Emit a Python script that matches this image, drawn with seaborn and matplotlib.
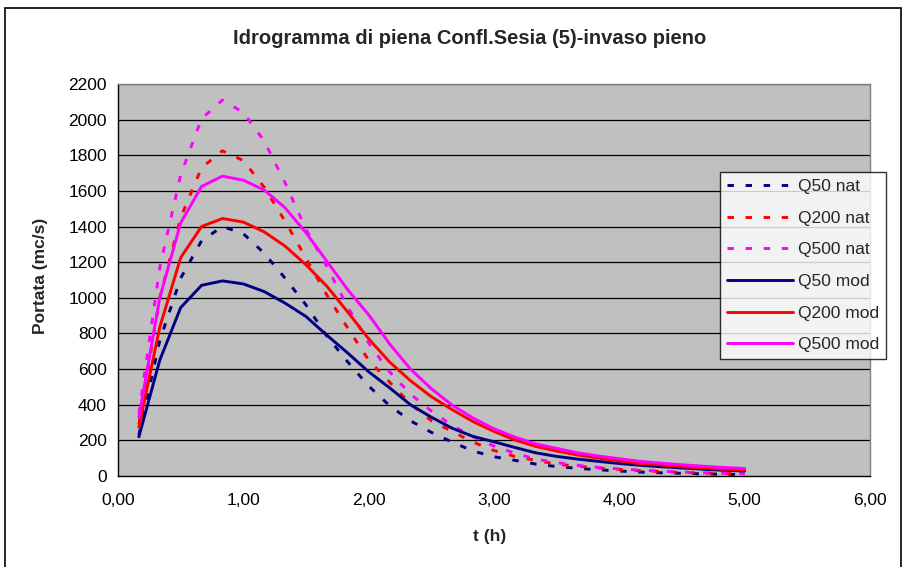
import matplotlib
matplotlib.use("Agg")
import matplotlib.pyplot as plt
from matplotlib.patches import Rectangle
from matplotlib.lines import Line2D
import numpy as np
import pandas as pd
import seaborn as sns

# time steps (h), every 10 minutes
t_h = [k / 6 for k in range(1, 31)]

q50_nat = [230, 760, 1110, 1320, 1400, 1360, 1250, 1110, 960, 785,
           640, 505, 395, 310, 245, 190, 140, 108, 88, 67,
           53, 43, 35, 28, 22, 18, 15, 12, 10, 8]
q200_nat = [290, 1000, 1450, 1730, 1825, 1770, 1620, 1430, 1222, 1015,
            830, 650, 527, 405, 310, 250, 190, 143, 110, 88,
            66, 55, 45, 37, 30, 25, 20, 17, 14, 12]
q500_nat = [350, 1170, 1690, 2005, 2110, 2040, 1880, 1645, 1385, 1175,
            948, 746, 585, 460, 365, 283, 220, 168, 128, 95,
            75, 60, 48, 40, 33, 27, 22, 18, 15, 13]
q50_mod = [220, 650, 945, 1070, 1095, 1078, 1035, 970, 895, 790,
           690, 585, 495, 400, 330, 268, 222, 192, 160, 130,
           110, 95, 82, 70, 60, 52, 45, 38, 32, 28]
q200_mod = [275, 835, 1225, 1400, 1445, 1425, 1370, 1290, 1185, 1065,
            920, 770, 640, 535, 445, 372, 305, 250, 202, 166,
            140, 118, 100, 85, 70, 62, 52, 45, 38, 32]
q500_mod = [330, 1000, 1420, 1625, 1683, 1660, 1605, 1505, 1365, 1205,
            1045, 905, 742, 600, 490, 397, 325, 265, 218, 180,
            155, 130, 112, 97, 82, 72, 63, 55, 48, 42]

series_names = ["Q50 nat", "Q200 nat", "Q500 nat", "Q50 mod", "Q200 mod", "Q500 mod"]
series_values = [q50_nat, q200_nat, q500_nat, q50_mod, q200_mod, q500_mod]

y_ticks = list(range(0, 2201, 200))
x_ticks = [0, 1, 2, 3, 4, 5, 6]
x_tick_labels = ["0,00", "1,00", "2,00", "3,00", "4,00", "5,00", "6,00"]

colors = {"Q50 nat": "#000080", "Q200 nat": "#FF0000", "Q500 nat": "#FF00FF",
          "Q50 mod": "#000080", "Q200 mod": "#FF0000", "Q500 mod": "#FF00FF"}
dash = (2.2, 4.0)
dashes = {"Q50 nat": dash, "Q200 nat": dash, "Q500 nat": dash,
          "Q50 mod": "", "Q200 mod": "", "Q500 mod": ""}

df = pd.concat(
    [pd.DataFrame({"t": t_h, "Q": vals, "serie": name})
     for name, vals in zip(series_names, series_values)],
    ignore_index=True,
)

sns.set_style("white")
plt.rcParams["font.family"] = ["Liberation Sans", "DejaVu Sans"]

FS = 12.5

fig = plt.figure(figsize=(9.05, 5.67), dpi=100)
ax = fig.add_axes([118 / 905, 91 / 567, 752 / 905, 392 / 567])
ax.set_facecolor("#C0C0C0")

# horizontal gridlines behind the curves
for yv in y_ticks[1:]:
    ax.axhline(yv, color="black", lw=0.9, zorder=1)

sns.lineplot(data=df, x="t", y="Q", hue="serie", style="serie",
             hue_order=series_names, style_order=series_names,
             palette=colors, dashes=dashes, linewidth=2.1,
             estimator=None, sort=False, ax=ax, legend=False, zorder=3)

ax.set_xlim(0, 6)
ax.set_ylim(0, 2200)
ax.set_xticks(x_ticks)
ax.set_xticklabels(x_tick_labels)
ax.set_yticks(y_ticks)
ax.set_yticklabels([str(v) for v in y_ticks])
ax.tick_params(axis="both", which="major", direction="out", length=5,
               width=1, color="black", labelsize=FS, labelcolor="black")
ax.tick_params(axis="x", pad=7)
ax.tick_params(axis="y", pad=3)

for side in ["left", "bottom"]:
    ax.spines[side].set_color("black")
    ax.spines[side].set_linewidth(1.0)
for side in ["top", "right"]:
    ax.spines[side].set_color("#808080")
    ax.spines[side].set_linewidth(1.0)
ax.spines["bottom"].set_zorder(4)

ax.set_xlabel("t (h)", fontsize=FS, fontweight="bold")
ax.set_ylabel("Portata (mc/s)", fontsize=FS, fontweight="bold")
ax.xaxis.set_label_coords((490 - 118) / 752, (476 - 537) / 392)
ax.yaxis.set_label_coords((40 - 118) / 752, 0.51)
ax.xaxis.label.set_va("center")
ax.yaxis.label.set_va("center")

fig.text(470 / 905, 1 - 38 / 567, "Idrogramma di piena Confl.Sesia (5)-invaso pieno",
         ha="center", va="center", fontsize=14.5, fontweight="bold")

# chart frame
fig.patches.append(Rectangle((5 / 905, -0.02), 896 / 905, 1 - 8 / 567 + 0.02,
                             transform=fig.transFigure, fill=False,
                             edgecolor="black", lw=1.2))

handles = [Line2D([0], [0], color=colors[n], lw=2.1,
                  linestyle=(0, dash) if dashes[n] else "-")
           for n in series_names]
leg = fig.legend(handles, series_names, loc="upper left",
                 bbox_to_anchor=(720 / 905, 1 - 172 / 567),
                 frameon=True, fancybox=False, shadow=False,
                 fontsize=FS, handlelength=3.8, handletextpad=0.3,
                 labelspacing=0.95, borderpad=0.4, borderaxespad=0)
leg.get_frame().set_edgecolor("black")
leg.get_frame().set_linewidth(1.0)
leg.get_frame().set_facecolor("white")

fig.savefig("out.png", dpi=100)
